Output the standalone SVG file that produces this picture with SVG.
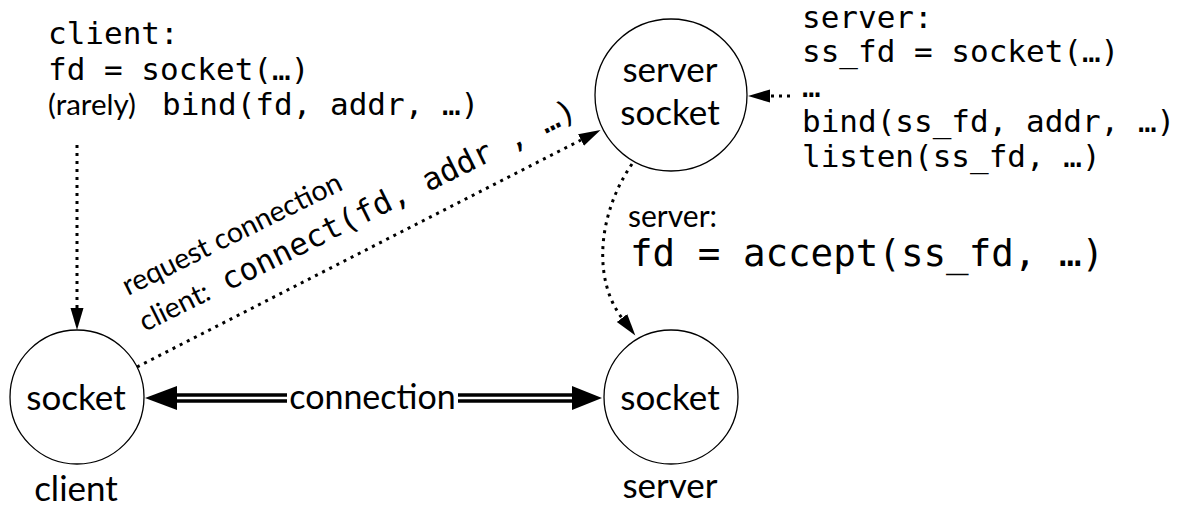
<svg xmlns="http://www.w3.org/2000/svg" width="1180" height="509" viewBox="0 0 1180 509">
  <style>
    .node circle { fill: #fff; stroke: #000; stroke-width: 1.3; }
    .lbl { font-family: Lato, "Open Sans", sans-serif; fill: #000; }
    .code { font-family: "DejaVu Sans Mono", "Liberation Mono", monospace; fill: #000; }
    .dot { fill: none; stroke: #000; stroke-width: 3; stroke-dasharray: 3 5; }
    .dbl { stroke: #000; stroke-width: 3.5; }
  </style>
  <defs>
    <marker id="head" markerUnits="userSpaceOnUse" markerWidth="24" markerHeight="16" refX="0" refY="6.5" orient="auto">
      <path d="M0,0 L22,6.5 L0,13 z" fill="#000"/>
    </marker>
  </defs>

  <!-- call sequences -->
  <g id="client-code">
    <text class="code" x="48" y="44" font-size="31">client:</text>
    <text class="code" x="48" y="80" font-size="31">fd = socket(…)</text>
    <text class="lbl" x="48" y="115" font-size="29.5">(rarely)</text>
    <text class="code" x="162" y="115" font-size="31">bind(fd, addr, …)</text>
  </g>
  <g id="server-code">
    <text class="code" x="802" y="28" font-size="31">server:</text>
    <text class="code" x="802" y="62" font-size="31">ss_fd = socket(…)</text>
    <text class="code" x="802" y="97" font-size="31">…</text>
    <text class="code" x="802" y="132" font-size="31">bind(ss_fd, addr, …)</text>
    <text class="code" x="802" y="167" font-size="31">listen(ss_fd, …)</text>
  </g>
  <g id="accept-code">
    <text class="lbl" x="628" y="227" font-size="30">server:</text>
    <text class="code" x="630" y="266" font-size="37.5">fd = accept(ss_fd, …)</text>
  </g>

  <!-- sockets -->
  <g id="listen-socket" class="node">
    <circle cx="671" cy="95" r="76"/>
    <text class="lbl" x="670" y="82" font-size="35" text-anchor="middle">server</text>
    <text class="lbl" x="670" y="125" font-size="35" text-anchor="middle">socket</text>
  </g>
  <g id="client-socket" class="node">
    <circle cx="77" cy="397" r="67"/>
    <text class="lbl" x="76" y="410" font-size="35" text-anchor="middle">socket</text>
    <text class="lbl" x="76" y="501" font-size="35" text-anchor="middle">client</text>
  </g>
  <g id="server-socket" class="node">
    <circle cx="671" cy="397" r="67"/>
    <text class="lbl" x="670" y="410" font-size="35" text-anchor="middle">socket</text>
    <text class="lbl" x="670" y="498" font-size="35" text-anchor="middle">server</text>
  </g>

  <!-- connectors -->
  <g id="connectors">
    <line class="dot" x1="77" y1="145" x2="77" y2="308" marker-end="url(#head)"/>
    <line class="dot" x1="790" y1="96" x2="770" y2="96" marker-end="url(#head)"/>
    <line class="dot" x1="137" y1="367" x2="581" y2="140" marker-end="url(#head)"/>
    <path class="dot" d="M632,164 C597,215 593,280 622,318" marker-end="url(#head)"/>

    <!-- established connection: double line, heads at both ends -->
    <line class="dbl" x1="176" y1="395" x2="287" y2="395"/>
    <line class="dbl" x1="176" y1="401" x2="287" y2="401"/>
    <line class="dbl" x1="458" y1="395" x2="574" y2="395"/>
    <line class="dbl" x1="458" y1="401" x2="574" y2="401"/>
    <path d="M145,398 L177,386 L177,410 z" fill="#000"/>
    <path d="M602,398 L572,386 L572,410 z" fill="#000"/>
    <text class="lbl" x="372.5" y="409" font-size="34" text-anchor="middle">connection</text>

    <g transform="translate(128,296) rotate(-26.3)">
      <text class="lbl" x="0" y="0" font-size="28.5">request connection</text>
    </g>
    <g transform="translate(145,332) rotate(-26.3)">
      <text class="lbl" x="0" y="0" font-size="28.5">client:</text>
      <text class="code" x="92" y="0" font-size="31">connect(fd, addr , …)</text>
    </g>
  </g>
</svg>
